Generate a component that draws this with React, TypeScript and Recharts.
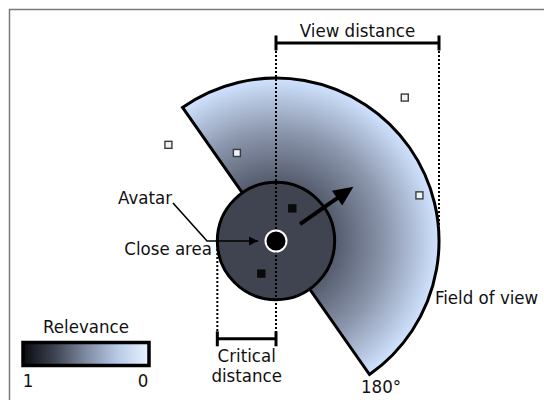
import React from 'react';
import { ScatterChart, Scatter, XAxis, YAxis, Customized, Sector } from 'recharts';

// ---------------- data (world units: view distance = 100) ----------------
const zoneNames = ['Close area', 'Field of view'];
const zoneRadius = [36, 100]; // critical distance, view distance
const fieldOfViewDeg = [180];
const headingDeg = [35];
const avatarX = [0];
const avatarY = [0];
const objectX = [-66, -24, 79, 88, 10, -9];
const objectY = [59, 54, 88, 28, 20, -20];
const objectRelevance = [0, 0, 0, 0, 1, 1];
const relevanceTicks = ['1', '0'];

// ---------------- layout ----------------
const W = 544;
const H = 400;
const K = 1.63; // px per world unit
const ORIGIN = { x: 276, y: 241 };
const X_DOMAIN: [number, number] = [-ORIGIN.x / K, (W - ORIGIN.x) / K];
const Y_DOMAIN: [number, number] = [-(H - ORIGIN.y) / K, ORIGIN.y / K];
const px = (x: number) => (x - X_DOMAIN[0]) * K;

const VIEW_BRACKET_Y = 121.5;
const CRIT_BRACKET_Y = -60;
const TICK = 4.6;
const FONT = "'DejaVu Sans Condensed', 'DejaVu Sans', sans-serif";
const FS = 18.5;

const avatarData = avatarX.map((x, i) => ({ x, y: avatarY[i] }));
const objectData = objectX.map((x, i) => ({ x, y: objectY[i], relevance: objectRelevance[i] }));

const rc = zoneRadius[0];
const rv = zoneRadius[1];
const dotted = { stroke: '#000', strokeWidth: 2, strokeDasharray: '2 2' };
const solid = { stroke: '#000', strokeWidth: 3 };

const segments: { pts: { x: number; y: number }[]; style: any }[] = [
  { pts: [{ x: 0, y: VIEW_BRACKET_Y }, { x: 0, y: CRIT_BRACKET_Y }], style: dotted },
  { pts: [{ x: rv, y: VIEW_BRACKET_Y }, { x: rv, y: 0 }], style: dotted },
  { pts: [{ x: -rc, y: 0 }, { x: -rc, y: CRIT_BRACKET_Y }], style: dotted },
  { pts: [{ x: 0, y: VIEW_BRACKET_Y }, { x: rv, y: VIEW_BRACKET_Y }], style: solid },
  { pts: [{ x: 0, y: VIEW_BRACKET_Y - TICK }, { x: 0, y: VIEW_BRACKET_Y + TICK }], style: solid },
  { pts: [{ x: rv, y: VIEW_BRACKET_Y - TICK }, { x: rv, y: VIEW_BRACKET_Y + TICK }], style: solid },
  { pts: [{ x: -rc, y: CRIT_BRACKET_Y }, { x: 0, y: CRIT_BRACKET_Y }], style: solid },
  { pts: [{ x: -rc, y: CRIT_BRACKET_Y - TICK }, { x: -rc, y: CRIT_BRACKET_Y + TICK }], style: solid },
  { pts: [{ x: 0, y: CRIT_BRACKET_Y - TICK }, { x: 0, y: CRIT_BRACKET_Y + TICK }], style: solid },
];

// leader from the "Avatar" label to the avatar
const leaderPts = [
  { x: -63.2, y: 23.3 },
  { x: -42.3, y: 0 },
  { x: -11, y: 0 },
];

const NoShape = () => <g />;

const LeaderHead = (props: any) => {
  const { cx, cy, payload } = props;
  const last = leaderPts[leaderPts.length - 1];
  if (!payload || payload.x !== last.x || payload.y !== last.y) return <g />;
  return <polygon points={`${cx},${cy} ${cx - 9},${cy - 4.5} ${cx - 9},${cy + 4.5}`} fill="#000" />;
};

const FieldShape = (props: any) => {
  const { cx, cy } = props;
  const heading = headingDeg[0];
  const half = fieldOfViewDeg[0] / 2;
  const rView = rv * K;
  const rClose = rc * K;
  return (
    <g>
      <defs>
        <radialGradient id="fovGrad" gradientUnits="userSpaceOnUse" cx={cx} cy={cy} r={rView}>
          <stop offset="0" stopColor="#0f1118" />
          <stop offset="0.36" stopColor="#545b6d" />
          <stop offset="0.67" stopColor="#8b96ac" />
          <stop offset="1" stopColor="#d0e3ff" />
        </radialGradient>
      </defs>
      <Sector
        cx={cx}
        cy={cy}
        innerRadius={0}
        outerRadius={rView}
        startAngle={heading + half}
        endAngle={heading - half}
        fill="url(#fovGrad)"
        stroke="#000"
        strokeWidth={3}
      />
      <circle cx={cx} cy={cy} r={rClose} fill="#404451" stroke="#000" strokeWidth={3} />
    </g>
  );
};

const AvatarTop = (props: any) => {
  const { cx, cy } = props;
  const a = (headingDeg[0] * Math.PI) / 180;
  const ux = Math.cos(a);
  const uy = -Math.sin(a);
  const r0 = 18 * K;
  const r1 = 58 * K;
  const tipX = cx + ux * r1;
  const tipY = cy + uy * r1;
  const headLen = 20;
  const headW = 9;
  const bx = tipX - ux * headLen;
  const by = tipY - uy * headLen;
  const nx = -uy;
  const ny = ux;
  return (
    <g>
      <circle cx={cx} cy={cy} r={10.5} fill="#000" stroke="#fff" strokeWidth={2} />
      <line x1={cx + ux * r0} y1={cy + uy * r0} x2={bx + ux * 2} y2={by + uy * 2} stroke="#000" strokeWidth={4} />
      <polygon
        points={`${tipX},${tipY} ${bx + nx * headW},${by + ny * headW} ${bx - nx * headW},${by - ny * headW}`}
        fill="#000"
      />
    </g>
  );
};

const ObjectShape = (props: any) => {
  const { cx, cy, payload } = props;
  const filled = payload.relevance >= 1;
  return (
    <rect
      x={cx - 3.5}
      y={cy - 3.5}
      width={7}
      height={7}
      fill={filled ? '#0a0a0a' : '#eef3f6'}
      stroke={filled ? '#0a0a0a' : '#3a3a3a'}
      strokeWidth={1.4}
    />
  );
};

const Annotations = () => {
  const t = { fontFamily: FONT, fontSize: FS, fill: '#111' } as const;
  return (
    <g>
      <defs>
        <linearGradient id="relGrad" x1="0" y1="0" x2="1" y2="0">
          <stop offset="0" stopColor="#0a0b10" />
          <stop offset="0.25" stopColor="#3d4350" />
          <stop offset="0.5" stopColor="#7f8aa2" />
          <stop offset="0.75" stopColor="#b8c9e6" />
          <stop offset="1" stopColor="#e8f4ff" />
        </linearGradient>
      </defs>
      <rect x={9.5} y={9.5} width={700} height={600} fill="none" stroke="#7a7a7a" strokeWidth={1.5} />
      <text {...t} x={px(rv / 2)} y={37} textAnchor="middle">View distance</text>
      <text {...t} x={px(-rc / 2)} y={362} textAnchor="middle">Critical</text>
      <text {...t} x={px(-rc / 2)} y={382} textAnchor="middle">distance</text>
      <text {...t} x={172} y={204} textAnchor="end">Avatar</text>
      <text {...t} x={212} y={255} textAnchor="end">{zoneNames[0]}</text>
      <text {...t} x={435} y={304} textAnchor="start">{zoneNames[1]}</text>
      <text {...t} x={381} y={393} textAnchor="middle">{`${fieldOfViewDeg[0]}°`}</text>
      <text {...t} x={86} y={333} textAnchor="middle">Relevance</text>
      <rect x={23} y={342.5} width={126} height={23} fill="url(#relGrad)" stroke="#000" strokeWidth={3.5} />
      <text {...t} x={28} y={387} textAnchor="middle">{relevanceTicks[0]}</text>
      <text {...t} x={143} y={387} textAnchor="middle">{relevanceTicks[1]}</text>
    </g>
  );
};

export default function App() {
  return (
    <div style={{ width: W, height: H }}>
      <style>{'body{margin:0}'}</style>
      <ScatterChart width={W} height={H} margin={{ top: 0, right: 0, bottom: 0, left: 0 }}>
        <XAxis type="number" dataKey="x" domain={X_DOMAIN} hide allowDataOverflow />
        <YAxis type="number" dataKey="y" domain={Y_DOMAIN} hide allowDataOverflow />
        <Customized component={Annotations} />
        <Scatter data={avatarData} shape={FieldShape} isAnimationActive={false} />
        {segments.map((s, i) => (
          <Scatter key={`seg${i}`} data={s.pts} line={s.style} shape={NoShape} isAnimationActive={false} />
        ))}
        <Scatter
          data={leaderPts}
          line={{ stroke: '#000', strokeWidth: 1.6 }}
          shape={LeaderHead}
          isAnimationActive={false}
        />
        <Scatter data={objectData} shape={ObjectShape} isAnimationActive={false} />
        <Scatter data={avatarData} shape={AvatarTop} isAnimationActive={false} />
      </ScatterChart>
    </div>
  );
}
